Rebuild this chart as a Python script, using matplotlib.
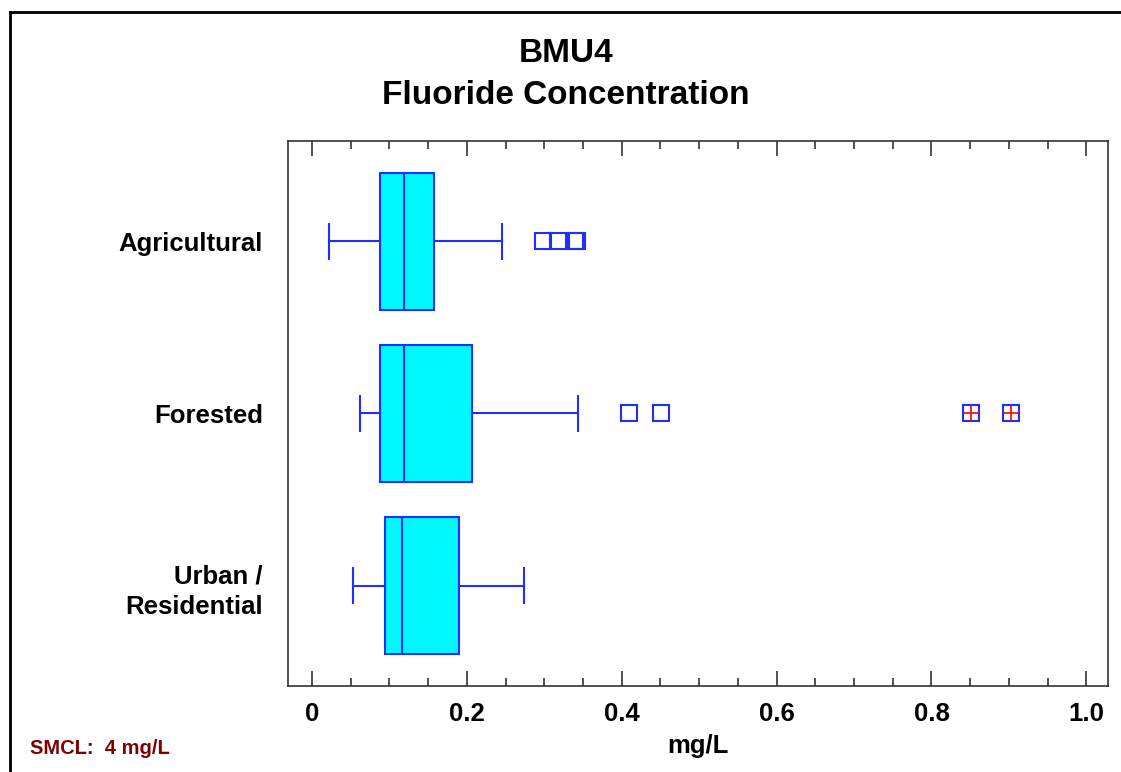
import matplotlib.pyplot as plt
from matplotlib.lines import Line2D

# --- datos ---
categorias = ["Agricultural", "Forested", "Urban /\nResidential"]
bigote_min = [0.022, 0.062, 0.053]
q1 = [0.088, 0.088, 0.094]
mediana = [0.119, 0.119, 0.116]
q3 = [0.157, 0.206, 0.190]
bigote_max = [0.245, 0.344, 0.274]
atipicos = [[0.298, 0.318, 0.340, 0.342], [0.410, 0.451], []]
extremos = [[], [0.851, 0.903], []]
xticks = [0, 0.2, 0.4, 0.6, 0.8, 1.0]
xtick_labels = ["0", "0.2", "0.4", "0.6", "0.8", "1.0"]

AZUL = "#1f2fff"
CIAN = "#00f8ff"
FUENTE = "Liberation Sans"

plt.rcParams["font.family"] = FUENTE

fig = plt.figure(figsize=(11.21, 7.72), dpi=100)
ax = fig.add_axes([0.2569, 0.1114, 0.7315, 0.706])

stats = []
for i, cat in enumerate(categorias):
    stats.append({
        "label": cat,
        "whislo": bigote_min[i],
        "q1": q1[i],
        "med": mediana[i],
        "q3": q3[i],
        "whishi": bigote_max[i],
        "fliers": atipicos[i],
    })

pos = list(range(1, len(categorias) + 1))
ax.bxp(
    stats,
    positions=pos,
    vert=False,
    widths=0.8,
    capwidths=0.2,
    patch_artist=True,
    boxprops=dict(facecolor=CIAN, edgecolor=AZUL, linewidth=1.5),
    medianprops=dict(color=AZUL, linewidth=1.5),
    whiskerprops=dict(color=AZUL, linewidth=1.5),
    capprops=dict(color=AZUL, linewidth=1.5),
    flierprops=dict(marker="s", markersize=11, markerfacecolor="none",
                    markeredgecolor=AZUL, markeredgewidth=1.5, linestyle="none"),
)

# atípicos extremos: cuadro con cruz roja
for p, vals in zip(pos, extremos):
    if vals:
        ax.plot(vals, [p] * len(vals), linestyle="none", marker="s", markersize=11,
                markerfacecolor="none", markeredgecolor=AZUL, markeredgewidth=1.5)
        ax.plot(vals, [p] * len(vals), linestyle="none", marker="+", markersize=11,
                color="red", markeredgewidth=1.2)

ax.set_xlim(-0.031, 1.028)
ax.set_ylim(3.584, 0.416)

ax.set_xticks(xticks)
ax.set_xticklabels(xtick_labels, fontsize=18.5, fontweight="bold")
ax.set_xticks([x / 20 for x in range(0, 21)], minor=True)
ax.tick_params(axis="x", which="major", direction="in", length=11, width=1.2,
               top=True, pad=11.5, colors="#333333", labelcolor="black")
ax.tick_params(axis="x", which="minor", direction="in", length=6, width=1.2,
               top=True, colors="#333333")

ax.set_yticks(pos)
ax.set_yticklabels(categorias, fontsize=18.5, fontweight="bold", ha="right",
                   multialignment="right", linespacing=1.35)
ax.tick_params(axis="y", length=0, pad=18)

for s in ax.spines.values():
    s.set_color("#333333")
    s.set_linewidth(1.2)

ax.set_xlabel("mg/L", fontsize=18.5, fontweight="bold", labelpad=6)

fig.text(0.505, 0.904, "BMU4\nFluoride Concentration", ha="center", va="center",
         fontsize=24, fontweight="bold", linespacing=1.45)
fig.text(0.027, 0.031, "SMCL:  4 mg/L", color="#800000", fontsize=14.5,
         fontweight="bold", ha="left", va="center")

# marco superior e izquierdo
fig.add_artist(Line2D([0.009, 1.0], [0.985, 0.985], transform=fig.transFigure,
                      color="black", linewidth=2))
fig.add_artist(Line2D([0.009, 0.009], [0.0, 0.985], transform=fig.transFigure,
                      color="black", linewidth=2))

fig.savefig("out.png", dpi=100)
